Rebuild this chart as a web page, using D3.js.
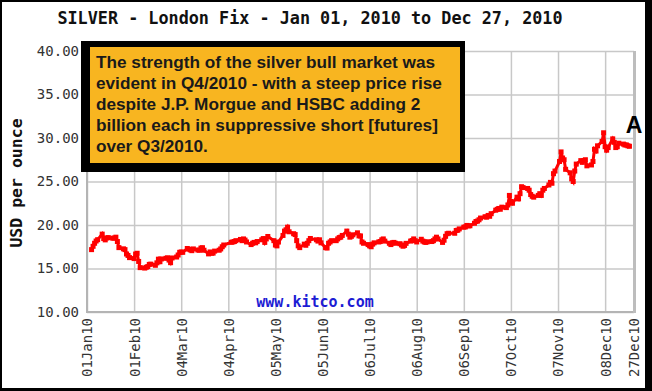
<!DOCTYPE html>
<html><head><meta charset="utf-8">
<script src="https://cdn.jsdelivr.net/npm/d3@7"></script>
<style>html,body{margin:0;padding:0;background:#fff;}svg{display:block;}</style>
</head><body>
<script>
// ---- data ----
const tradingDates = [
"01-04","01-05","01-06","01-07","01-08","01-11","01-12","01-13","01-14","01-15",
"01-18","01-19","01-20","01-21","01-22","01-25","01-26","01-27","01-28","01-29",
"02-01","02-02","02-03","02-04","02-05","02-08","02-09","02-10","02-11","02-12",
"02-15","02-16","02-17","02-18","02-19","02-22","02-23","02-24","02-25","02-26",
"03-01","03-02","03-03","03-04","03-05","03-08","03-09","03-10","03-11","03-12",
"03-15","03-16","03-17","03-18","03-19","03-22","03-23","03-24","03-25","03-26",
"03-29","03-30","03-31","04-01",
"04-06","04-07","04-08","04-09","04-12","04-13","04-14","04-15","04-16",
"04-19","04-20","04-21","04-22","04-23","04-26","04-27","04-28","04-29","04-30",
"05-04","05-05","05-06","05-07","05-10","05-11","05-12","05-13","05-14",
"05-17","05-18","05-19","05-20","05-21","05-24","05-25","05-26","05-27","05-28",
"06-01","06-02","06-03","06-04","06-07","06-08","06-09","06-10","06-11",
"06-14","06-15","06-16","06-17","06-18","06-21","06-22","06-23","06-24","06-25",
"06-28","06-29","06-30","07-01","07-02",
"07-05","07-06","07-07","07-08","07-09","07-12","07-13","07-14","07-15","07-16",
"07-19","07-20","07-21","07-22","07-23","07-26","07-27","07-28","07-29","07-30",
"08-02","08-03","08-04","08-05","08-06","08-09","08-10","08-11","08-12","08-13",
"08-16","08-17","08-18","08-19","08-20","08-23","08-24","08-25","08-26","08-27",
"08-31","09-01","09-02","09-03",
"09-06","09-07","09-08","09-09","09-10","09-13","09-14","09-15","09-16","09-17",
"09-20","09-21","09-22","09-23","09-24","09-27","09-28","09-29","09-30","10-01",
"10-04","10-05","10-06","10-07","10-08","10-11","10-12","10-13","10-14","10-15",
"10-18","10-19","10-20","10-21","10-22","10-25","10-26","10-27","10-28","10-29",
"11-01","11-02","11-03","11-04","11-05","11-08","11-09","11-10","11-11","11-12",
"11-15","11-16","11-17","11-18","11-19","11-22","11-23","11-24","11-25","11-26",
"11-29","11-30","12-01","12-02","12-03",
"12-06","12-07","12-08","12-09","12-10","12-13","12-14","12-15","12-16","12-17",
"12-20","12-21","12-22","12-23","12-24"
];
const prices = [
17.17,17.55,17.90,18.16,18.31,18.95,18.44,18.29,18.51,18.55,
18.48,18.50,18.60,18.10,17.40,17.26,17.17,16.67,16.50,16.25,
16.14,16.66,16.75,15.81,15.10,15.05,15.14,15.22,15.47,15.50,
15.37,15.65,16.07,15.78,16.10,16.17,16.23,15.97,15.67,16.21,
16.32,16.55,16.86,16.90,16.86,17.30,17.22,17.14,17.05,17.25,
17.12,17.10,17.35,17.39,17.10,16.68,16.90,16.75,16.77,17.00,
17.10,17.25,17.50,17.70,
18.01,18.05,18.10,18.20,18.34,18.20,18.40,18.27,18.05,
17.75,17.90,18.00,17.95,18.10,18.30,18.44,18.00,18.40,18.68,
18.20,17.70,17.60,18.04,18.80,19.30,19.45,19.75,19.22,
19.00,18.90,18.20,17.60,17.40,17.80,17.67,17.90,18.20,18.45,
18.30,18.15,18.30,17.95,17.40,17.35,17.90,18.05,18.20,
18.20,18.40,18.55,18.60,18.80,19.30,18.95,18.60,18.70,18.87,
19.10,18.75,18.74,18.05,17.90,
17.75,17.60,17.50,17.80,17.95,18.05,18.10,18.30,18.40,18.15,
17.90,17.75,17.95,18.00,17.90,17.85,17.70,17.56,17.65,17.89,
18.15,18.22,18.40,18.20,18.05,18.36,18.15,18.05,18.00,18.07,
18.10,18.20,18.40,18.60,18.40,18.00,18.25,18.70,19.00,19.05,
19.05,19.37,19.40,19.55,
19.75,19.78,19.95,19.90,19.91,20.20,20.40,20.45,20.60,20.80,
20.95,20.90,21.10,21.00,21.30,21.70,21.80,21.90,21.81,22.05,
22.00,22.30,23.40,22.70,22.50,23.20,23.00,23.60,24.40,24.30,
24.20,24.00,23.50,23.30,23.20,23.40,23.60,23.40,24.00,24.20,
24.60,24.90,24.80,25.90,26.20,27.30,28.40,27.70,27.50,26.40,
26.00,25.30,25.00,26.20,27.00,27.40,27.20,27.40,27.50,26.80,
26.90,27.30,28.70,28.50,29.10,
29.60,30.60,29.00,28.60,28.90,29.90,29.50,28.90,29.00,29.40,
29.30,29.20,29.20,29.10,29.05
];
const xTickDates = ["2010-01-01","2010-02-01","2010-03-04","2010-04-04","2010-05-05","2010-06-05",
  "2010-07-06","2010-08-06","2010-09-06","2010-10-07","2010-11-07","2010-12-08","2010-12-27"];
const xTickLabels = ["01Jan10","01Feb10","04Mar10","04Apr10","05May10","05Jun10",
  "06Jul10","06Aug10","06Sep10","07Oct10","07Nov10","08Dec10","27Dec10"];
const yTicks = [10,15,20,25,30,35,40];
const titleText = "SILVER - London Fix - Jan 01, 2010 to Dec 27, 2010";
const yAxisTitle = "USD per ounce";
const noteLines = [
  "The strength of the silver bull market was",
  "evident in Q4/2010 - with a steep price rise",
  "despite J.P. Morgue and HSBC adding 2",
  "billion each in suppressive short [futures]",
  "over Q3/2010."
];
const watermark = "www.kitco.com";
const markerLabel = "A";

// ---- chart ----
(function () {
const W = 652, H = 391;
const pL = 87, pR = 634, pT = 51, pB = 312;
const parse = d3.utcParse("%Y-%m-%d");
const data = tradingDates.map((d, i) => ({date: parse("2010-" + d), v: prices[i]}));

const svg = d3.select("body").append("svg").attr("width", W).attr("height", H);
svg.append("rect").attr("x", 0).attr("y", 0).attr("width", W).attr("height", H).attr("fill", "#000");
svg.append("rect").attr("x", 2).attr("y", 2).attr("width", 643).attr("height", 386).attr("fill", "#fff");

const x = d3.scaleUtc().domain([parse("2010-01-01"), parse("2010-12-27")]).range([pL, pR]);
const y = d3.scaleLinear().domain([10, 40]).range([pB, pT]);

// gridlines
const tickDates = xTickDates.map(parse);
svg.append("g").attr("transform", `translate(0,${pB})`)
  .call(d3.axisBottom(x).tickValues(tickDates).tickSize(-(pB - pT)).tickFormat(""))
  .call(g => g.select(".domain").remove())
  .call(g => g.selectAll("line").attr("stroke", "#c8c8c8").attr("stroke-width", 1.5));
svg.append("g").attr("transform", `translate(${pL},0)`)
  .call(d3.axisLeft(y).tickValues(yTicks).tickSize(-(pR - pL)).tickFormat(""))
  .call(g => g.select(".domain").remove())
  .call(g => g.selectAll("line").attr("stroke", "#c8c8c8").attr("stroke-width", 1.5));

// axis lines
svg.append("line").attr("x1", pL).attr("x2", pL).attr("y1", pT).attr("y2", pB + 1)
  .attr("stroke", "#b4b4b4").attr("stroke-width", 2);
svg.append("line").attr("x1", pL - 1).attr("x2", pR + 1).attr("y1", pB).attr("y2", pB)
  .attr("stroke", "#b4b4b4").attr("stroke-width", 2);
svg.append("line").attr("x1", pR + 0.5).attr("x2", pR + 0.5).attr("y1", pT).attr("y2", pB + 1)
  .attr("stroke", "#bdbdbd").attr("stroke-width", 3);

// y tick labels
svg.append("g").attr("transform", `translate(${pL - 8},0)`)
  .call(d3.axisLeft(y).tickValues(yTicks).tickSize(0).tickPadding(0).tickFormat(d3.format(".2f")))
  .call(g => g.select(".domain").remove())
  .call(g => g.selectAll("text").attr("font-family", "'DejaVu Sans Mono', monospace")
    .attr("font-size", 14).attr("fill", "#333"));

// x tick labels
svg.append("g").attr("transform", `translate(0,${pB})`)
  .call(d3.axisBottom(x).tickValues(tickDates).tickSize(0).tickFormat((d, i) => xTickLabels[i]))
  .call(g => g.select(".domain").remove())
  .call(g => g.selectAll("text")
    .attr("font-family", "'DejaVu Sans Mono', monospace").attr("font-size", 14).attr("fill", "#333")
    .attr("transform", "rotate(-90)").attr("text-anchor", "end")
    .attr("x", -6).attr("y", 0).attr("dy", "0.35em"));

// watermark
svg.append("text").attr("x", 315).attr("y", 307).attr("text-anchor", "middle")
  .attr("font-family", "'DejaVu Sans Mono', monospace").attr("font-weight", "bold")
  .attr("font-size", 15).attr("fill", "#1c1cd4").text(watermark);

// series
const line = d3.line().x(d => x(d.date)).y(d => y(d.v));
svg.append("path").datum(data).attr("d", line).attr("fill", "none")
  .attr("stroke", "#ff0000").attr("stroke-width", 3);
svg.append("g").selectAll("rect").data(data).join("rect")
  .attr("x", d => x(d.date) - 2.5).attr("y", d => y(d.v) - 2.5)
  .attr("width", 5).attr("height", 5).attr("fill", "#ff0000");

// title
svg.append("text").attr("x", 310).attr("y", 24).attr("text-anchor", "middle")
  .attr("font-family", "'DejaVu Sans Mono', monospace").attr("font-weight", "bold")
  .attr("font-size", 16.8).attr("fill", "#111").text(titleText);

// y axis title
svg.append("text").attr("transform", "translate(22,183) rotate(-90)").attr("text-anchor", "middle")
  .attr("font-family", "'DejaVu Sans Mono', monospace").attr("font-weight", "bold")
  .attr("font-size", 16.5).attr("fill", "#111").text(yAxisTitle);

// annotation box
svg.append("rect").attr("x", 81).attr("y", 41).attr("width", 384).attr("height", 131).attr("fill", "#000");
svg.append("rect").attr("x", 90).attr("y", 47).attr("width", 370).attr("height", 116).attr("fill", "#f8b520");
svg.append("g").selectAll("text").data(noteLines).join("text")
  .attr("x", 96).attr("y", (d, i) => 68 + i * 21)
  .attr("font-family", "'Liberation Sans', Arial, sans-serif").attr("font-weight", "bold")
  .attr("font-size", 17.2).attr("fill", "#1a1a1a").text(d => d);

// marker label
svg.append("text").attr("x", 634).attr("y", 133).attr("text-anchor", "middle")
  .attr("font-family", "'Liberation Sans', Arial, sans-serif").attr("font-weight", "bold")
  .attr("font-size", 23).attr("fill", "#000").text(markerLabel);
})();
</script>
</body></html>
